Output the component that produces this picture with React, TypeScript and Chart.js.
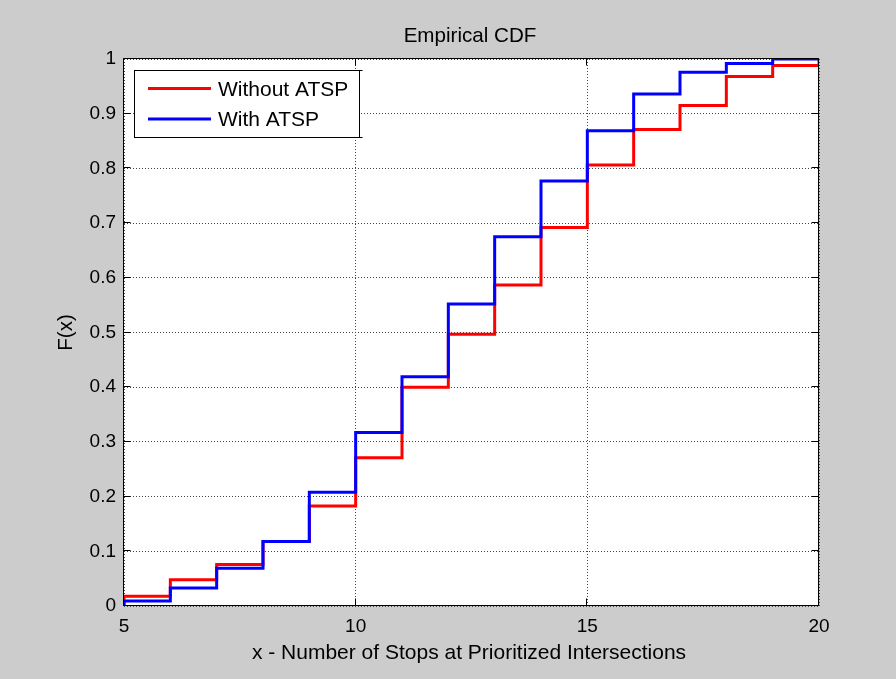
import React, { useEffect, useRef } from 'react';
import { Chart, registerables } from 'chart.js';

Chart.register(...registerables);

// ---- data ----
const xValues = [5, 6, 7, 8, 9, 10, 11, 12, 13, 14, 15, 16, 17, 18, 19, 20];
const withoutATSP = [0.018, 0.048, 0.076, 0.118, 0.183, 0.271, 0.4, 0.497, 0.587, 0.692, 0.806, 0.871, 0.915, 0.968, 0.988, 1.0];
const withATSP = [0.009, 0.033, 0.069, 0.118, 0.208, 0.317, 0.419, 0.552, 0.675, 0.777, 0.869, 0.936, 0.976, 0.992, 1.0, 1.0];
const seriesLabels = ['Without ATSP', 'With ATSP'];
const seriesColors = ['#ff0000', '#0000ff'];
const xTickLabels = ['5', '10', '15', '20'];
const yTickLabels = ['0', '0.1', '0.2', '0.3', '0.4', '0.5', '0.6', '0.7', '0.8', '0.9', '1'];
const chartTitle = 'Empirical CDF';
const xAxisTitle = 'x - Number of Stops at Prioritized Intersections';
const yAxisTitle = 'F(x)';

const FONT = '"Liberation Sans", Arial, sans-serif';

export default function App() {
  const ref = useRef<HTMLCanvasElement>(null);

  useEffect(() => {
    const canvas = ref.current;
    if (!canvas) return;
    const xTickValues = xTickLabels.map(Number);
    const yTickValues = yTickLabels.map(Number);
    const mkData = (vals: number[]) => [
      { x: xValues[0], y: 0 },
      ...xValues.map((x, i) => ({ x, y: vals[i] })),
    ];

    const framePlugin = {
      id: 'matlabFrame',
      beforeDraw(chart: any) {
        const { ctx, chartArea: a } = chart;
        ctx.save();
        ctx.fillStyle = '#ffffff';
        ctx.fillRect(a.left, a.top, a.right - a.left, a.bottom - a.top);
        ctx.restore();
      },
      afterDatasetsDraw(chart: any) {
        const { ctx, chartArea: a, scales } = chart;
        const xs = scales.x;
        const ys = scales.y;
        const L = Math.round(a.left) - 0.5;
        const R = Math.round(a.right) - 0.5;
        const T = Math.round(a.top) - 0.5;
        const B = Math.round(a.bottom) - 0.5;
        ctx.save();
        ctx.strokeStyle = '#000';
        ctx.lineWidth = 1;
        ctx.beginPath();
        ctx.rect(L, T, R - L, B - T);
        // inner tick marks
        const tl = 7;
        xTickValues.forEach((v) => {
          const px = Math.round(xs.getPixelForValue(v)) - 0.5;
          ctx.moveTo(px, B);
          ctx.lineTo(px, B - tl);
          ctx.moveTo(px, T);
          ctx.lineTo(px, T + tl);
        });
        yTickValues.forEach((v) => {
          const py = Math.round(ys.getPixelForValue(v)) - 0.5;
          ctx.moveTo(L, py);
          ctx.lineTo(L + tl, py);
          ctx.moveTo(R, py);
          ctx.lineTo(R - tl, py);
        });
        ctx.stroke();

        // legend
        const lx = 134.5, ly = 70.5, lw = 225, lh = 67;
        ctx.fillStyle = '#fff';
        ctx.fillRect(lx, ly, lw, lh);
        ctx.strokeStyle = '#000';
        ctx.lineWidth = 1;
        ctx.strokeRect(lx, ly, lw, lh);
        // small tick artefacts on the legend's right edge
        ctx.beginPath();
        ctx.moveTo(lx + lw, ly);
        ctx.lineTo(lx + lw + 3, ly);
        ctx.moveTo(lx + lw, ly + lh);
        ctx.lineTo(lx + lw + 3, ly + lh);
        ctx.stroke();
        const rows = [88.5, 119];
        seriesLabels.forEach((label, i) => {
          ctx.strokeStyle = seriesColors[i];
          ctx.lineWidth = 3;
          ctx.beginPath();
          ctx.moveTo(148, rows[i]);
          ctx.lineTo(211, rows[i]);
          ctx.stroke();
          ctx.fillStyle = '#000';
          ctx.font = `21px ${FONT}`;
          ctx.textAlign = 'left';
          ctx.textBaseline = 'middle';
          ctx.fillText(label, 218, rows[i] + 1.5);
        });
        ctx.restore();
      },
      afterDraw(chart: any) {
        const { ctx, chartArea: a } = chart;
        const cx = (a.left + a.right) / 2;
        ctx.save();
        ctx.fillStyle = '#000';
        ctx.textAlign = 'center';
        ctx.textBaseline = 'middle';
        ctx.font = `20.6px ${FONT}`;
        ctx.fillText(chartTitle, cx - 1.5, 36);
        ctx.font = `21px ${FONT}`;
        ctx.fillText(xAxisTitle, cx - 2.5, 653);
        ctx.font = `20.6px ${FONT}`;
        ctx.translate(66, (a.top + a.bottom) / 2);
        ctx.rotate(-Math.PI / 2);
        ctx.fillText(yAxisTitle, 0, 0);
        ctx.restore();
      },
    };

    const chart = new Chart(canvas, {
      type: 'line',
      data: {
        datasets: [
          {
            label: seriesLabels[0],
            data: mkData(withoutATSP),
            borderColor: seriesColors[0],
            backgroundColor: seriesColors[0],
            borderWidth: 3,
            pointRadius: 0,
            stepped: 'before',
            fill: false,
            order: 2,
          },
          {
            label: seriesLabels[1],
            data: mkData(withATSP),
            borderColor: seriesColors[1],
            backgroundColor: seriesColors[1],
            borderWidth: 3,
            pointRadius: 0,
            stepped: 'before',
            fill: false,
            order: 1,
          },
        ],
      },
      options: {
        animation: false,
        responsive: false,
        maintainAspectRatio: false,
        devicePixelRatio: 1,
        layout: { padding: { left: 0, right: 77, top: 59, bottom: 0 } },
        plugins: {
          legend: { display: false },
          title: { display: false },
          tooltip: { enabled: false },
        },
        scales: {
          x: {
            type: 'linear',
            min: 5,
            max: 20,
            afterBuildTicks: (s: any) => {
              s.ticks = xTickValues.map((v) => ({ value: v }));
            },
            afterFit: (s: any) => {
              s.height = 73;
            },
            ticks: {
              padding: 9,
              color: '#000',
              font: { family: FONT, size: 19 },
              maxRotation: 0,
              callback: (v: any) => {
                const i = xTickValues.indexOf(Number(v));
                return i >= 0 ? xTickLabels[i] : '';
              },
            },
            grid: { color: '#444', lineWidth: 1, drawTicks: false, borderDash: [1, 2] } as any,
            border: { display: false, dash: [1, 2] },
          },
          y: {
            type: 'linear',
            min: 0,
            max: 1,
            afterBuildTicks: (s: any) => {
              s.ticks = yTickValues.map((v) => ({ value: v }));
            },
            afterFit: (s: any) => {
              s.width = 124;
            },
            ticks: {
              padding: 8,
              color: '#000',
              font: { family: FONT, size: 19 },
              callback: (v: any, i: number) => yTickLabels[i],
            },
            grid: { color: '#444', lineWidth: 1, drawTicks: false, borderDash: [1, 2] } as any,
            border: { display: false, dash: [1, 2] },
          },
        },
      },
      plugins: [framePlugin],
    } as any);

    return () => chart.destroy();
  }, []);

  return (
    <div
      style={{
        position: 'absolute',
        left: 0,
        top: 0,
        width: 896,
        height: 679,
        background: '#cccccc',
      }}
    >
      <canvas ref={ref} width={896} height={679} style={{ display: 'block' }} />
    </div>
  );
}
